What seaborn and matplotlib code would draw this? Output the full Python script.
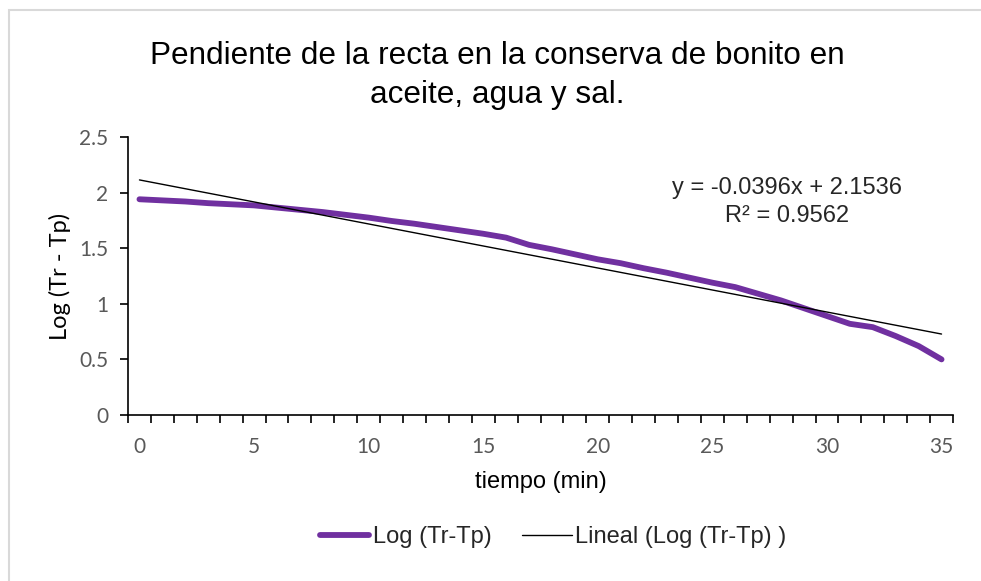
import numpy as np
import pandas as pd
import matplotlib
matplotlib.use("Agg")
import matplotlib.pyplot as plt
import seaborn as sns
from matplotlib.patches import Rectangle
from matplotlib.ticker import FixedLocator

# ---- data ----
tiempo = list(range(0, 36))
log_tr_tp = [1.94, 1.93, 1.92, 1.905, 1.895, 1.885, 1.865, 1.845, 1.825, 1.80,
             1.775, 1.745, 1.72, 1.69, 1.66, 1.63, 1.595, 1.53, 1.49, 1.445,
             1.40, 1.365, 1.32, 1.28, 1.235, 1.19, 1.15, 1.09, 1.03, 0.96,
             0.89, 0.82, 0.79, 0.71, 0.62, 0.50]
trend_slope = -0.0396
trend_intercept = 2.1536
r2 = 0.9562
x_tick_labels = [0, 5, 10, 15, 20, 25, 30, 35]
y_tick_labels = [0, 0.5, 1, 1.5, 2, 2.5]

df = pd.DataFrame({"tiempo": tiempo, "log": log_tr_tp})
# Excel trendline on a category axis uses the point index 1..n as x
trend_x = np.array([tiempo[0], tiempo[-1]], dtype=float)
trend_idx = np.array([1, len(tiempo)], dtype=float)
df_trend = pd.DataFrame({"tiempo": trend_x, "fit": trend_slope * trend_idx + trend_intercept})

sns.set_style("white")
plt.rcParams["font.family"] = ["Liberation Sans", "DejaVu Sans"]

W, H = 981, 581
fig = plt.figure(figsize=(W / 100, H / 100), dpi=100)
ax = fig.add_axes([128 / W, 1 - 415 / H, (953 - 128) / W, (415 - 137) / H])

purple = "#7030A0"
sns.lineplot(data=df, x="tiempo", y="log", ax=ax, color=purple, linewidth=4.2,
             solid_capstyle="round", label="Log (Tr-Tp)", legend=False)
sns.lineplot(data=df_trend, x="tiempo", y="fit", ax=ax, color="black", linewidth=1.0,
             label="Lineal (Log (Tr-Tp) )", legend=False)

ax.set_xlim(-0.5, 35.5)
ax.set_ylim(0, 2.5)
ax.xaxis.set_major_locator(FixedLocator(x_tick_labels))
ax.xaxis.set_minor_locator(FixedLocator(np.arange(-0.5, 35.6, 1.0)))
ax.set_xticklabels([str(v) for v in x_tick_labels])
ax.set_yticks(y_tick_labels)
ax.set_yticklabels(["0", "0.5", "1", "1.5", "2", "2.5"])

tick_font = ["Lato", "Liberation Sans", "DejaVu Sans"]
for lab in ax.get_xticklabels() + ax.get_yticklabels():
    lab.set_family(tick_font)
    lab.set_fontsize(15)
    lab.set_color("#595959")

ax.tick_params(axis="x", which="major", length=0, pad=16)
ax.tick_params(axis="x", which="minor", length=6, width=1.2, color="black", direction="out", bottom=True)
ax.tick_params(axis="y", which="major", length=6, width=1.2, color="black", direction="out", left=True, pad=8)

for s in ["top", "right"]:
    ax.spines[s].set_visible(False)
for s in ["left", "bottom"]:
    ax.spines[s].set_color("black")
    ax.spines[s].set_linewidth(1.2)

ax.set_xlabel("tiempo (min)", fontsize=17, color="black", labelpad=10)
ax.set_ylabel("Log (Tr - Tp)", fontsize=17, color="black", labelpad=6,
              family=tick_font)

fig.text(497 / W, 1 - 56 / H, "Pendiente de la recta en la conserva de bonito en",
         ha="center", va="center", fontsize=22.7, color="black")
fig.text(497 / W, 1 - 95 / H, "aceite, agua y sal.",
         ha="center", va="center", fontsize=22.7, color="black")

ax.text(787 / W, 1 - 188 / H, "y = -0.0396x + 2.1536", transform=fig.transFigure,
        ha="center", va="center", fontsize=17)
ax.text(787 / W, 1 - 216 / H, "R² = 0.9562", transform=fig.transFigure,
        ha="center", va="center", fontsize=17)

handles, labels = ax.get_legend_handles_labels()
leg = fig.legend(handles, labels, loc="center", bbox_to_anchor=(553 / W, 1 - 537 / H),
                 ncol=2, frameon=False, fontsize=17, handlelength=2.1,
                 handletextpad=0.15, columnspacing=1.3)

fig.patches.append(Rectangle((9 / W, -0.05), 1.2, 1 - 10 / H + 0.05, transform=fig.transFigure,
                             fill=False, edgecolor="#d9d9d9", linewidth=1.5))

fig.savefig("out.png", dpi=100)
